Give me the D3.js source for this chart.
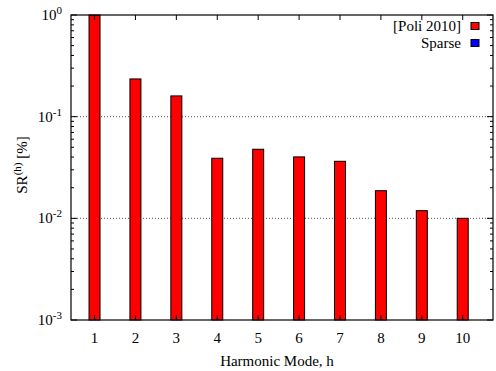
<!DOCTYPE html>
<html lang="en">
<head>
<meta charset="UTF-8">
<title>Harmonic SR</title>
<script src="https://d3js.org/d3.v7.min.js"></script>
<style>
  body { margin: 0; background: #fff; }
</style>
</head>
<body>
<script>
// data
const modes = [1, 2, 3, 4, 5, 6, 7, 8, 9, 10];
const poli = [1.0, 0.235, 0.16, 0.039, 0.0478, 0.0402, 0.0364, 0.0187, 0.0119, 0.0100];
const sparse = [1e-4, 1e-4, 1e-4, 1e-4, 1e-4, 1e-4, 1e-4, 1e-4, 1e-4, 1e-4];
const yTicks = [1e-3, 1e-2, 1e-1, 1];
const gridTicks = [1e-2, 1e-1];
const seriesNames = ["[Poli 2010]", "Sparse"];
const seriesColors = ["#ff0000", "#0000ff"];

const W = 496, H = 371;
const margin = {top: 15, right: 3, bottom: 51, left: 71};
const width = W - margin.left - margin.right;
const height = H - margin.top - margin.bottom;

const svg = d3.select("body").append("svg")
    .attr("width", W)
    .attr("height", H)
    .attr("font-family", "'Liberation Serif', 'DejaVu Serif', serif");
const g = svg.append("g").attr("transform", `translate(${margin.left},${margin.top})`);

const x = d3.scaleLinear().domain([0.425, 10.74]).range([0, width]);
const y = d3.scaleLog().domain([1e-3, 1]).range([height, 0]);
const barW = 11;

// dotted grid
g.selectAll(".grid").data(gridTicks).enter().append("line")
    .attr("x1", 0).attr("x2", width)
    .attr("y1", d => y(d)).attr("y2", d => y(d))
    .attr("stroke", "#555").attr("stroke-width", 1)
    .attr("stroke-dasharray", "1,2");

// bars
const clampY = v => y(Math.max(v, 1e-3));
g.selectAll(".poli").data(modes).enter().append("rect")
    .attr("x", (d) => x(d) - barW / 2)
    .attr("y", (d, i) => clampY(poli[i]))
    .attr("width", barW)
    .attr("height", (d, i) => height - clampY(poli[i]))
    .attr("fill", seriesColors[0])
    .attr("stroke", "#000").attr("stroke-width", 1);
g.selectAll(".sparse").data(modes).enter().append("rect")
    .attr("x", (d) => x(d) + barW / 2)
    .attr("y", (d, i) => clampY(sparse[i]))
    .attr("width", barW)
    .attr("height", (d, i) => height - clampY(sparse[i]))
    .attr("fill", seriesColors[1])
    .attr("stroke", "#000").attr("stroke-width", 1);

// y ticks, major + minor, mirrored
const minor = [];
for (let e = -3; e < 0; e++) for (let k = 2; k <= 9; k++) minor.push(k * Math.pow(10, e));
[[0, 1], [width, -1]].forEach(([x0, dir]) => {
  g.selectAll(null).data(yTicks).enter().append("line")
      .attr("x1", x0).attr("x2", x0 + dir * 6)
      .attr("y1", d => y(d)).attr("y2", d => y(d))
      .attr("stroke", "#000");
  g.selectAll(null).data(minor).enter().append("line")
      .attr("x1", x0).attr("x2", x0 + dir * 3)
      .attr("y1", d => y(d)).attr("y2", d => y(d))
      .attr("stroke", "#000");
});
// x ticks bottom and top
[[height, -1], [0, 1]].forEach(([y0, dir]) => {
  g.selectAll(null).data(modes).enter().append("line")
      .attr("x1", d => x(d)).attr("x2", d => x(d))
      .attr("y1", y0).attr("y2", y0 + dir * 5)
      .attr("stroke", "#000");
});

// frame
g.append("rect").attr("width", width).attr("height", height)
    .attr("fill", "none").attr("stroke", "#000").attr("stroke-width", 1.2);

// y tick labels 10^n
const yl = g.selectAll(".ylab").data(yTicks).enter().append("text")
    .attr("x", -9).attr("y", d => y(d) + 5)
    .attr("text-anchor", "end")
    .style("font-size", "15px");
yl.append("tspan").text("10");
yl.append("tspan").attr("dy", -6).style("font-size", "11px")
    .text(d => Math.round(Math.log10(d)));

// x tick labels
g.selectAll(".xlab").data(modes).enter().append("text")
    .attr("x", d => x(d)).attr("y", height + 23)
    .attr("text-anchor", "middle")
    .style("font-size", "15px")
    .text(d => d);

// axis titles
g.append("text")
    .attr("x", width / 2 - 5).attr("y", height + 46)
    .attr("text-anchor", "middle")
    .style("font-size", "15px")
    .text("Harmonic Mode, h");

const yt = svg.append("text")
    .attr("transform", "translate(27,165) rotate(-90)")
    .attr("text-anchor", "middle")
    .style("font-size", "15px");
yt.append("tspan").text("SR");
yt.append("tspan").attr("dy", -6).style("font-size", "11px").text("(h)");
yt.append("tspan").attr("dy", 6).text(" [%]");

// legend
const leg = svg.append("g");
seriesNames.forEach((name, i) => {
  const cy = 26 + i * 17;
  leg.append("text").attr("x", 461).attr("y", cy + 5)
      .attr("text-anchor", "end").style("font-size", "15px").text(name);
  leg.append("rect").attr("x", 471).attr("y", cy - 3.5)
      .attr("width", 8).attr("height", 7)
      .attr("fill", seriesColors[i]).attr("stroke", "#000");
});
</script>
</body>
</html>
